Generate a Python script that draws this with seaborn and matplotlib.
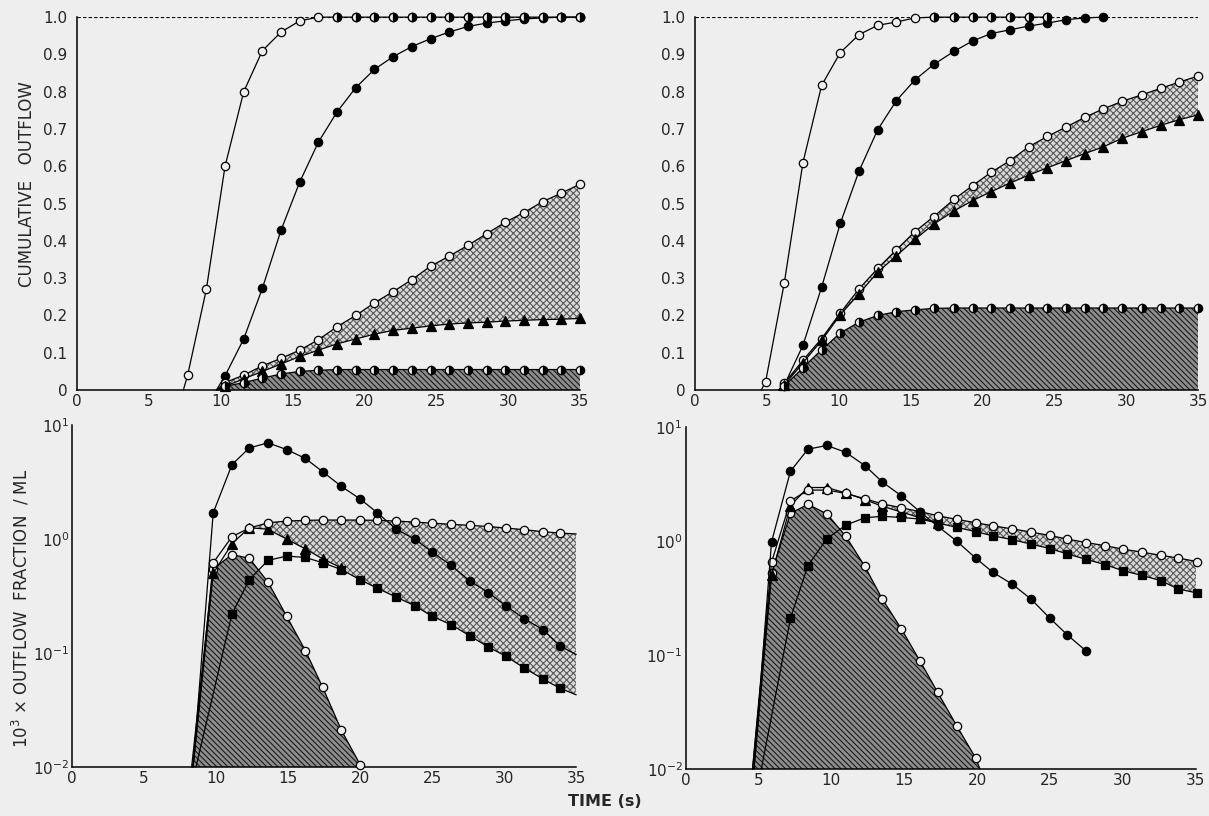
import numpy as np
import matplotlib.pyplot as plt
import seaborn as sns
from matplotlib.ticker import NullFormatter

sns.set_theme(style="white")
plt.rcParams["font.family"] = ["DejaVu Sans"]
plt.rcParams["hatch.linewidth"] = 0.8
plt.rcParams["mathtext.default"] = "regular"

paper = "#eeeeee"

# ---------------- top left : cumulative outflow ----------------
tl_time = [7.7, 9.0, 10.3, 11.6, 12.9, 14.2, 15.5, 16.8, 18.1, 19.4, 20.7,
           22.0, 23.3, 24.6, 25.9, 27.2, 28.5, 29.8, 31.1, 32.4, 33.7, 35.0]
tl_fast = [0.04, 0.27, 0.60, 0.80, 0.91, 0.96, 0.99, 1.0]            # from 7.7
tl_fast_plateau = [1.0, 1.0, 1.0, 1.0, 1.0, 1.0, 1.0,
                   1.0, 1.0, 1.0, 1.0, 1.0, 1.0, 1.0]                # from 18.1
tl_slow = [0.038, 0.137, 0.273, 0.429, 0.558, 0.665, 0.746, 0.811, 0.86, 0.894,
           0.921, 0.942, 0.96, 0.975, 0.984, 0.99, 0.995, 0.998, 1.0, 1.0]  # from 10.3
tl_upper = [0.02, 0.04, 0.065, 0.085, 0.107, 0.135, 0.17, 0.2, 0.234, 0.264,
            0.296, 0.332, 0.359, 0.388, 0.419, 0.45, 0.476, 0.505, 0.528, 0.552]
tl_tri = [0.01, 0.03, 0.05, 0.07, 0.09, 0.107, 0.124, 0.137, 0.15, 0.16,
          0.166, 0.172, 0.177, 0.18, 0.182, 0.185, 0.187, 0.189, 0.19, 0.192]
tl_half = [0.01, 0.02, 0.032, 0.043, 0.05, 0.053, 0.055, 0.055, 0.055, 0.055,
           0.055, 0.055, 0.055, 0.055, 0.055, 0.055, 0.055, 0.055, 0.055, 0.055]
tl_onset = [7.4, 9.7, 9.7, 9.7, 9.8]   # fast, slow, upper, tri, half

# ---------------- top right ----------------
tr_time = [4.9, 6.2, 7.5, 8.8, 10.1, 11.4, 12.7, 14.0, 15.3, 16.6, 18.0, 19.3,
           20.6, 21.9, 23.2, 24.5, 25.8, 27.1, 28.4, 29.7, 31.1, 32.4, 33.7, 35.0]
tr_fast = [0.022, 0.287, 0.61, 0.817, 0.905, 0.953, 0.978, 0.987, 0.998]  # from 4.9
tr_fast_plateau = [1.0, 1.0, 1.0, 1.0, 1.0, 1.0, 1.0]                     # from 16.6
tr_slow = [0.013, 0.12, 0.276, 0.447, 0.587, 0.698, 0.776, 0.832, 0.873,
           0.908, 0.936, 0.956, 0.966, 0.976, 0.984, 0.993, 0.998, 1.0]  # from 6.2
tr_upper = [0.018, 0.08, 0.138, 0.207, 0.271, 0.326, 0.376, 0.425, 0.465, 0.511,
            0.548, 0.584, 0.615, 0.652, 0.68, 0.705, 0.731, 0.754, 0.774, 0.792,
            0.809, 0.826, 0.842]
tr_tri = [0.013, 0.073, 0.133, 0.202, 0.258, 0.316, 0.36, 0.404, 0.445, 0.48,
          0.508, 0.532, 0.555, 0.576, 0.596, 0.615, 0.634, 0.652, 0.675, 0.693,
          0.71, 0.725, 0.738]
tr_half = [0.01, 0.06, 0.108, 0.153, 0.182, 0.2, 0.21, 0.215, 0.219, 0.22, 0.22,
           0.22, 0.22, 0.22, 0.22, 0.22, 0.22, 0.22, 0.22, 0.22, 0.22, 0.22, 0.22]
tr_onset = [4.6, 5.8, 5.8, 5.8, 5.8]

# ---------------- bottom left : outflow fraction / ml ----------------
bl_time = [9.8, 11.1, 12.3, 13.6, 14.9, 16.2, 17.4, 18.7, 20.0, 21.2,
           22.5, 23.8, 25.0, 26.3, 27.6, 28.9, 30.1, 31.4, 32.7, 33.9]
bl_peak = [1.7, 4.5, 6.3, 7.0, 6.1, 5.1, 3.9, 2.9, 2.25, 1.7,
           1.22, 1.0, 0.77, 0.59, 0.43, 0.34, 0.26, 0.2, 0.16, 0.115]
bl_open = [0.62, 1.05, 1.25, 1.39, 1.44, 1.46, 1.47, 1.47, 1.47, 1.46,
           1.44, 1.41, 1.38, 1.35, 1.32, 1.29, 1.25, 1.21, 1.16, 1.13]
bl_tri = [0.5, 0.91, 1.26, 1.22, 1.0, 0.82, 0.67, 0.56]                # from 9.8
bl_square = [0.22, 0.44, 0.65, 0.71, 0.69, 0.62, 0.54, 0.44, 0.37, 0.31, 0.26,
             0.21, 0.178, 0.142, 0.113, 0.094, 0.074, 0.059, 0.049]    # from 11.1
bl_hatch = [0.55, 0.73, 0.68, 0.42, 0.21, 0.105, 0.05, 0.021, 0.0105]  # from 9.8
bl_onset = [8.4, 8.4, 8.4, 8.6, 8.3]       # peak, open, tri, square, hatch
bl_end = [0.097, 1.11, 0.043]              # peak, open, square at 35 s
bl_hatch_end = 20.3

# ---------------- bottom right ----------------
br_time = [5.9, 7.2, 8.4, 9.7, 11.0, 12.3, 13.5, 14.8, 16.1, 17.3, 18.6, 19.9,
           21.1, 22.4, 23.7, 25.0, 26.2, 27.5, 28.8, 30.0, 31.3, 32.6, 33.8, 35.1]
br_peak = [0.98, 4.1, 6.4, 6.9, 6.0, 4.6, 3.3, 2.5, 1.8, 1.35, 1.0, 0.71,
           0.53, 0.42, 0.31, 0.21, 0.15, 0.108]                          # from 5.9
br_open = [0.65, 2.25, 2.8, 2.8, 2.62, 2.35, 2.12, 1.96, 1.81, 1.67, 1.55, 1.45,
           1.36, 1.28, 1.2, 1.12, 1.04, 0.97, 0.91, 0.85, 0.8, 0.75, 0.71, 0.66]
br_tri = [0.5, 2.05, 2.95, 2.95, 2.64, 2.31, 2.02, 1.8, 1.6, 1.45]      # from 5.9
br_square = [0.21, 0.61, 1.05, 1.38, 1.6, 1.65, 1.61, 1.56, 1.44, 1.32, 1.21,
             1.11, 1.03, 0.94, 0.86, 0.77, 0.69, 0.62, 0.55, 0.5, 0.45, 0.38,
             0.35]                                                        # from 7.2
br_hatch = [0.52, 1.75, 2.1, 1.73, 1.1, 0.6, 0.31, 0.17, 0.088, 0.047, 0.024,
            0.0125]                                                       # from 5.9
br_onset = [4.7, 4.6, 4.7, 5.2, 4.6]
br_hatch_end = 20.2

x_ticks = [0, 5, 10, 15, 20, 25, 30, 35]
lin_ticks = [0, 0.1, 0.2, 0.3, 0.4, 0.5, 0.6, 0.7, 0.8, 0.9, 1.0]
lin_labels = ["0", "0.1", "0.2", "0.3", "0.4", "0.5", "0.6", "0.7", "0.8", "0.9", "1.0"]
log_ticks = [0.01, 0.1, 1, 10]
log_labels = [r"$10^{-2}$", r"$10^{-1}$", r"$10^{0}$", r"$10^{1}$"]

DOT = dict(facecolor="#dadada", edgecolor="#5a5a5a", hatch="xxxxx", lw=0, zorder=1)
HATCH = dict(facecolor="#8e8e8e", edgecolor="#1a1a1a", hatch="\\\\\\\\\\\\",
             lw=0, zorder=1)


def curve(ax, t, v, start, end=None, marker="o", face=paper, ms=6, half=False):
    x = [start[0]] + list(t) + ([end[0]] if end else [])
    y = [start[1]] + list(v) + ([end[1]] if end else [])
    kw = dict(markerfacecolor=face)
    if half:
        kw = dict(markerfacecolor="black", markerfacecoloralt=paper, fillstyle="right")
    sns.lineplot(x=x, y=y, ax=ax, color="black", lw=0.9, sort=False, estimator=None,
                 marker=marker, markersize=ms, markeredgecolor="black",
                 markeredgewidth=0.9, markevery=slice(1, 1 + len(t)),
                 clip_on=False, zorder=3, **kw)


def marks(ax, t, v, ms=6):
    sns.lineplot(x=list(t), y=list(v), ax=ax, color="black", lw=0, sort=False,
                 estimator=None, marker="o", markersize=ms, markeredgecolor="black",
                 markeredgewidth=0.9, markerfacecolor="black",
                 markerfacecoloralt=paper, fillstyle="right", clip_on=False, zorder=4)


def style_linear(ax):
    ax.set_xlim(0, 35)
    ax.set_ylim(0, 1.0)
    ax.set_xticks(x_ticks)
    ax.set_yticks(lin_ticks, labels=lin_labels)
    ax.axhline(1.0, color="black", lw=0.8, ls=(0, (3, 2)), zorder=2)
    ax.tick_params(axis="x", direction="in", length=4, width=1, labelsize=11, pad=3)
    ax.tick_params(axis="y", direction="out", length=5, width=1, labelsize=11, pad=2)


def style_log(ax):
    ax.set_yscale("log")
    ax.set_xlim(0, 35)
    ax.set_ylim(0.01, 10)
    ax.set_xticks(x_ticks)
    ax.set_yticks(log_ticks, labels=log_labels)
    ax.yaxis.set_minor_formatter(NullFormatter())
    ax.tick_params(axis="x", direction="in", length=4, width=1, labelsize=11, pad=3)
    ax.tick_params(axis="y", which="major", direction="in", length=7, width=1,
                   labelsize=11, pad=2)
    ax.tick_params(axis="y", which="minor", direction="in", length=3.5, width=0.8)


fig = plt.figure(figsize=(12.09, 8.16), dpi=100, facecolor=paper)
ax_tl = fig.add_axes([0.0637, 0.522, 0.416, 0.457])
ax_tr = fig.add_axes([0.575, 0.522, 0.416, 0.457])
ax_bl = fig.add_axes([0.0596, 0.060, 0.417, 0.419])
ax_br = fig.add_axes([0.567, 0.0576, 0.422, 0.419])

for ax in (ax_tl, ax_tr, ax_bl, ax_br):
    ax.set_facecolor("none")
    for side in ("top", "right"):
        ax.spines[side].set_visible(False)
    for side in ("left", "bottom"):
        ax.spines[side].set_color("black")
        ax.spines[side].set_linewidth(1.1)

style_linear(ax_tl)
style_linear(ax_tr)
style_log(ax_bl)
style_log(ax_br)


def cumulative_panel(ax, t, fast, plateau, slow, upper, tri, half, onset):
    i0 = len(t) - len(upper)
    nf = len(fast)
    # dotted band between open-circle curve and triangle curve
    ax.fill([onset[2]] + t[i0:] + t[i0:][::-1] + [onset[3]],
            [0] + upper + tri[::-1] + [0], **DOT)
    # hatched area below the half-filled curve
    ax.fill([onset[4]] + t[i0:] + [t[-1]], [0] + half + [0], **HATCH)
    plat_t = t[nf:nf + len(plateau)]
    curve(ax, t[:nf] + plat_t, fast + plateau, (onset[0], 0))
    marks(ax, plat_t, plateau)
    curve(ax, t[i0:i0 + len(slow)], slow, (onset[1], 0), face="black")
    curve(ax, t[i0:], upper, (onset[2], 0))
    curve(ax, t[i0:], tri, (onset[3], 0), marker="^", face="black", ms=6.5)
    curve(ax, t[i0:], half, (onset[4], 0), half=True)


def outflow_panel(ax, t, peak, opn, tri, square, hatch, onset, end, hatch_end, i_band):
    s0 = len(t) - len(square)
    n_tri = len(tri)
    j_meet = n_tri - 1 - s0            # square index at the last triangle time
    # dotted band: open-circle curve above, triangles then squares below
    up_x = t[i_band:] + ([35.0] if end[1] else [])
    up_y = opn[i_band:] + ([end[1]] if end[1] else [])
    sq_x = t[s0:] + ([35.0] if end[2] else [])
    sq_y = square + ([end[2]] if end[2] else [])
    lo_x = sq_x[::-1][:len(sq_x) - j_meet] + t[i_band:n_tri][::-1]
    lo_y = sq_y[::-1][:len(sq_y) - j_meet] + tri[i_band:][::-1]
    ax.fill(up_x + lo_x, up_y + lo_y, **DOT)
    # hatched area below the open-circle peak
    ax.fill([onset[4]] + t[:len(hatch)] + [hatch_end], [0.01] + hatch + [0.01], **HATCH)
    curve(ax, t[:len(hatch)], hatch, (onset[4], 0.01), (hatch_end, 0.01))
    curve(ax, t[s0:], square, (onset[3], 0.01),
          (35.0, end[2]) if end[2] else None, marker="s", face="black", ms=5.5)
    curve(ax, t[:n_tri], tri, (onset[2], 0.01), marker="^", face="black", ms=6.5)
    curve(ax, t, opn, (onset[1], 0.01), (35.0, end[1]) if end[1] else None)
    curve(ax, t[:len(peak)], peak, (onset[0], 0.01),
          (35.0, end[0]) if end[0] else None, face="black")


cumulative_panel(ax_tl, tl_time, tl_fast, tl_fast_plateau, tl_slow, tl_upper,
                 tl_tri, tl_half, tl_onset)
cumulative_panel(ax_tr, tr_time, tr_fast, tr_fast_plateau, tr_slow, tr_upper,
                 tr_tri, tr_half, tr_onset)
outflow_panel(ax_bl, bl_time, bl_peak, bl_open, bl_tri, bl_square, bl_hatch,
              bl_onset, bl_end, bl_hatch_end, 2)
outflow_panel(ax_br, br_time, br_peak, br_open, br_tri, br_square, br_hatch,
              br_onset, [None, None, None], br_hatch_end, 6)

fig.text(0.022, 0.775, "CUMULATIVE   OUTFLOW", rotation=90, ha="center",
         va="center", fontsize=12)
fig.text(0.017, 0.255, r"10$^3$ × OUTFLOW  FRACTION  / ML", rotation=90,
         ha="center", va="center", fontsize=12)
fig.text(0.5, 0.018, "TIME (s)", ha="center", va="center", fontsize=11.5,
         fontweight="bold")

fig.savefig("out.png", dpi=100, facecolor=paper)
